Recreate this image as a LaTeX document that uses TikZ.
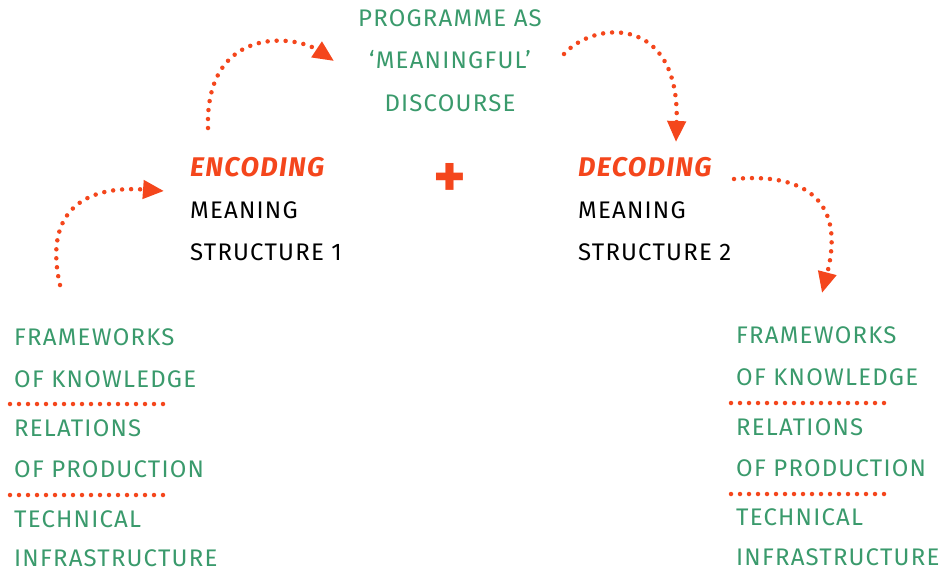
\documentclass[tikz,border=0pt]{standalone}
\usepackage{fontspec}
\setmainfont[LetterSpace=5]{Fira Sans}
\usetikzlibrary{arrows.meta,calc,positioning}
\definecolor{txtgreen}{HTML}{3A9A6C}
\definecolor{dotred}{HTML}{F4461C}

\tikzset{
  lbl/.style={anchor=west, inner sep=0pt, font=\fontsize{24}{28}\selectfont},
  grn/.style={lbl, text=txtgreen},
  codehead/.style={lbl, text=dotred, font=\fontsize{27}{30}\selectfont\bfseries\itshape},
  dotline/.style={dotred, line width=4.5pt, line cap=round, dash pattern=on 0pt off 9pt},
  dotarrow/.style={dotline, -{Triangle[length=21pt,width=18pt]}}
}

\begin{document}
\begin{tikzpicture}[x=1pt,y=-1pt]
			\useasboundingbox (0,0) rectangle (940,573);
			
			% Programme in the middle
			\node[grn, anchor=center] (prog1) at (450,18) {PROGRAMME AS};
			\node[grn, anchor=center] (prog2) at (450,60) {`MEANINGFUL'};
			\node[grn, anchor=center] (prog3) at (450,103) {DISCOURSE};
			\node[text=dotred, inner sep=0pt, font=\fontsize{62}{62}\selectfont\bfseries] (plus) at (450,180) {+};
			
			% Encoding side
			\node[codehead] (enc) at (190,167) {ENCODING};
			\node[lbl] (encm) at (190,210) {MEANING};
			\node[lbl] (encs) at (190,252) {STRUCTURE 1};
			
			% Decoding side
			\node[codehead] (dec) at (578,167) {DECODING};
			\node[lbl] (decm) at (578,210) {MEANING};
			\node[lbl] (decs) at (578,252) {STRUCTURE 2};
			
			% Left list
			\node[grn] (lfw) at (14,337) {FRAMEWORKS};
			\node[grn] (lkn) at (14,379) {OF KNOWLEDGE};
			\node[grn] (lrel) at (14,428) {RELATIONS};
			\node[grn] (lprod) at (14,469) {OF PRODUCTION};
			\node[grn] (ltech) at (14,519) {TECHNICAL};
			\node[grn] (linf) at (14,558) {INFRASTRUCTURE};
			\draw[dotline] (10,404) -- (163,404);
			\draw[dotline] (10,495) -- (163,495);
			
			% Right list
			\node[grn] (rfw) at (736,335) {FRAMEWORKS};
			\node[grn] (rkn) at (736,377) {OF KNOWLEDGE};
			\node[grn] (rrel) at (736,427) {RELATIONS};
			\node[grn] (rprod) at (736,468) {OF PRODUCTION};
			\node[grn] (rtech) at (736,517) {TECHNICAL};
			\node[grn] (rinf) at (736,557) {INFRASTRUCTURE};
			\draw[dotline] (731,403) -- (884,403);
			\draw[dotline] (731,494) -- (884,494);
			
			% Dotted arrows
			\coordinate (lfwup) at (60,285);
			\coordinate (encin) at (164,191);
			\coordinate (encup) at (208,128);
			\coordinate (progin) at (334,61);
			\coordinate (progout) at (564,54);
			\coordinate (decin) at (676,142);
			\coordinate (decout) at (734,179);
			\coordinate (rfwin) at (822,293);
			\draw[dotarrow] (lfwup) .. controls (44,215) and (80,185) .. (encin);
			\draw[dotarrow] (encup) .. controls (205,25) and (295,35) .. (progin);
			\draw[dotarrow] (progout) .. controls (595,20) and (680,15) .. (decin);
			\draw[dotarrow] (decout) .. controls (810,172) and (845,205) .. (rfwin);
		\end{tikzpicture}
\end{document}
